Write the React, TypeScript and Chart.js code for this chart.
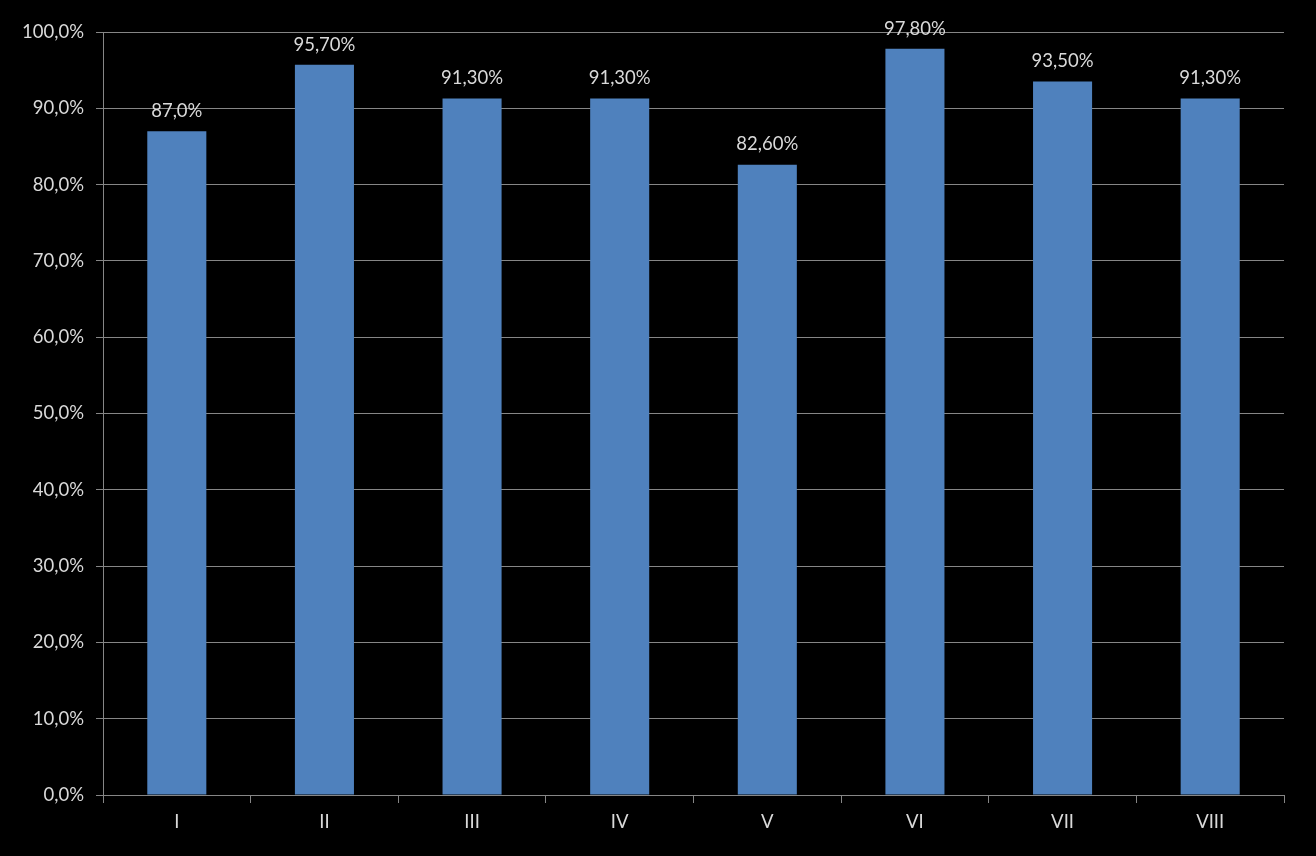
import React, { useEffect, useRef } from "react";
import { Chart, registerables } from "chart.js";

Chart.register(...registerables);

const categories = ["I", "II", "III", "IV", "V", "VI", "VII", "VIII"];
const values = [87.0, 95.7, 91.3, 91.3, 82.6, 97.8, 93.5, 91.3];
const valueLabels = ["87,0%", "95,70%", "91,30%", "91,30%", "82,60%", "97,80%", "93,50%", "91,30%"];

const FONT = "Lato, 'Open Sans', sans-serif";
const TEXT = "#D9D9D9";
const GRID = "#868686";

const labelPlugin = {
  id: "valueLabels",
  afterDatasetsDraw(chart: any) {
    const ctx = chart.ctx;
    const meta = chart.getDatasetMeta(0);
    ctx.save();
    ctx.fillStyle = TEXT;
    ctx.font = `18.5px ${FONT}`;
    ctx.textAlign = "center";
    ctx.textBaseline = "bottom";
    meta.data.forEach((bar: any, i: number) => {
      ctx.fillText(valueLabels[i], bar.x, bar.y - 11);
    });
    ctx.restore();
  },
};

export default function App() {
  const ref = useRef<HTMLCanvasElement>(null);
  useEffect(() => {
    document.body.style.margin = "0";
    document.body.style.background = "#000";
    const chart = new Chart(ref.current!, {
      type: "bar",
      data: {
        labels: categories,
        datasets: [
          {
            data: values,
            backgroundColor: "#4F81BD",
            borderWidth: 0,
            barPercentage: 0.4,
            categoryPercentage: 1,
          },
        ],
      },
      options: {
        animation: false,
        responsive: false,
        maintainAspectRatio: false,
        layout: { padding: { top: 32, right: 32, left: 0, bottom: 0 } },
        plugins: { legend: { display: false }, tooltip: { enabled: false } },
        scales: {
          x: {
            afterFit(scale: any) {
              scale.height = 61;
            },
            grid: {
              offset: true,
              drawOnChartArea: false,
              drawTicks: true,
              tickLength: 8,
              color: GRID,
            },
            border: { color: GRID },
            ticks: { color: TEXT, font: { family: FONT, size: 18.5 }, padding: 8 },
          },
          y: {
            min: 0,
            max: 100,
            afterFit(scale: any) {
              scale.width = 103;
            },
            grid: { color: GRID, tickLength: 7 },
            border: { color: GRID },
            ticks: {
              stepSize: 10,
              color: TEXT,
              padding: 12,
              font: { family: FONT, size: 18.5 },
              callback: (v: any) => Number(v).toFixed(1).replace(".", ",") + "%",
            },
          },
        },
      },
      plugins: [labelPlugin],
    });
    return () => chart.destroy();
  }, []);
  return (
    <div style={{ width: 1316, height: 856, background: "#000" }}>
      <canvas ref={ref} width={1316} height={856} style={{ display: "block" }} />
    </div>
  );
}
